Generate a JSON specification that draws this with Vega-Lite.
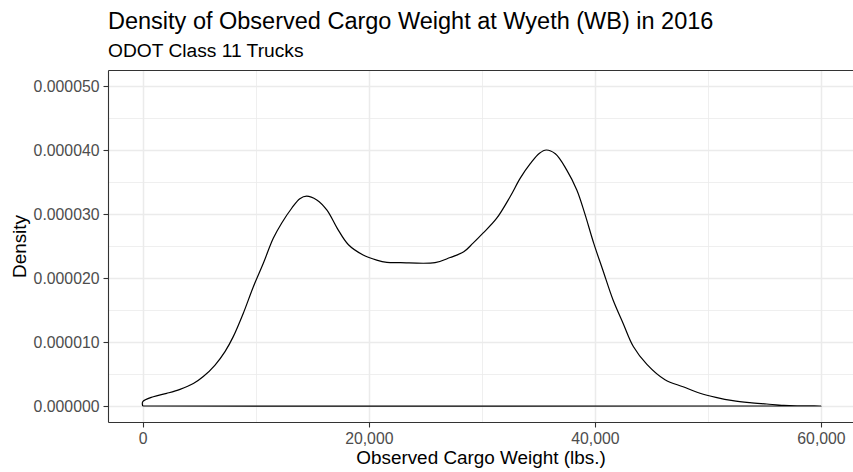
{
  "$schema": "https://vega.github.io/schema/vega-lite/v6.json",
  "width": 745,
  "height": 352,
  "autosize": "none",
  "padding": {"left": 108, "top": 70, "right": 0, "bottom": 50},
  "background": "white",
  "config": {
    "font": "Liberation Sans",
    "view": {"stroke": null},
    "axis": {
      "labelFont": "Liberation Sans",
      "titleFont": "Liberation Sans",
      "labelFontSize": 15.8,
      "labelColor": "#4D4D4D",
      "titleFontSize": 18.9,
      "titleFontWeight": "normal",
      "titleColor": "#000000",
      "tickColor": "#333333",
      "tickSize": 5,
      "tickWidth": 1.1,
      "domainColor": "#333333",
      "domainWidth": 1.1,
      "gridColor": "#EBEBEB"
    }
  },
  "title": {
    "text": "Density of Observed Cargo Weight at Wyeth (WB) in 2016",
    "subtitle": "ODOT Class 11 Trucks",
    "anchor": "start",
    "frame": "group",
    "font": "Liberation Sans",
    "fontSize": 23.5,
    "fontWeight": "normal",
    "color": "#000000",
    "subtitleFont": "Liberation Sans",
    "subtitleFontSize": 19.2,
    "subtitleColor": "#000000",
    "subtitlePadding": 8,
    "offset": 9
  },
  "data": {
    "values": [
      {"i": 0, "w": 0, "d": 0},
      {"i": 1, "w": 0, "d": 6.7e-7},
      {"i": 2, "w": 940, "d": 1.45e-6},
      {"i": 3, "w": 2120, "d": 1.98e-6},
      {"i": 4, "w": 3300, "d": 2.6e-6},
      {"i": 5, "w": 4480, "d": 3.5e-6},
      {"i": 6, "w": 5360, "d": 4.6e-6},
      {"i": 7, "w": 6400, "d": 6.4e-6},
      {"i": 8, "w": 7280, "d": 8.5e-6},
      {"i": 9, "w": 8000, "d": 1.08e-5},
      {"i": 10, "w": 8900, "d": 1.45e-5},
      {"i": 11, "w": 9780, "d": 1.86e-5},
      {"i": 12, "w": 10670, "d": 2.23e-5},
      {"i": 13, "w": 11550, "d": 2.62e-5},
      {"i": 14, "w": 12300, "d": 2.86e-5},
      {"i": 15, "w": 13180, "d": 3.09e-5},
      {"i": 16, "w": 13900, "d": 3.24e-5},
      {"i": 17, "w": 14500, "d": 3.28e-5},
      {"i": 18, "w": 15400, "d": 3.22e-5},
      {"i": 19, "w": 16300, "d": 3.06e-5},
      {"i": 20, "w": 17200, "d": 2.78e-5},
      {"i": 21, "w": 18200, "d": 2.52e-5},
      {"i": 22, "w": 19500, "d": 2.36e-5},
      {"i": 23, "w": 20700, "d": 2.28e-5},
      {"i": 24, "w": 21600, "d": 2.245e-5},
      {"i": 25, "w": 22800, "d": 2.24e-5},
      {"i": 26, "w": 25860, "d": 2.24e-5},
      {"i": 27, "w": 27200, "d": 2.32e-5},
      {"i": 28, "w": 28400, "d": 2.41e-5},
      {"i": 29, "w": 29200, "d": 2.54e-5},
      {"i": 30, "w": 30100, "d": 2.7e-5},
      {"i": 31, "w": 31300, "d": 2.93e-5},
      {"i": 32, "w": 32500, "d": 3.27e-5},
      {"i": 33, "w": 33400, "d": 3.56e-5},
      {"i": 34, "w": 34300, "d": 3.79e-5},
      {"i": 35, "w": 35100, "d": 3.95e-5},
      {"i": 36, "w": 35700, "d": 4.0e-5},
      {"i": 37, "w": 36500, "d": 3.94e-5},
      {"i": 38, "w": 37500, "d": 3.69e-5},
      {"i": 39, "w": 38400, "d": 3.375e-5},
      {"i": 40, "w": 39100, "d": 3.01e-5},
      {"i": 41, "w": 39900, "d": 2.54e-5},
      {"i": 42, "w": 40700, "d": 2.125e-5},
      {"i": 43, "w": 41600, "d": 1.66e-5},
      {"i": 44, "w": 42500, "d": 1.29e-5},
      {"i": 45, "w": 43400, "d": 9.3e-6},
      {"i": 46, "w": 44600, "d": 6.5e-6},
      {"i": 47, "w": 46200, "d": 4.1e-6},
      {"i": 48, "w": 47800, "d": 3.0e-6},
      {"i": 49, "w": 49300, "d": 2.0e-6},
      {"i": 50, "w": 50700, "d": 1.35e-6},
      {"i": 51, "w": 52200, "d": 8.3e-7},
      {"i": 52, "w": 53700, "d": 5.2e-7},
      {"i": 53, "w": 55200, "d": 3.1e-7},
      {"i": 54, "w": 56700, "d": 1.0e-7},
      {"i": 55, "w": 58000, "d": 3e-8},
      {"i": 56, "w": 60000, "d": 0},
      {"i": 57, "w": 0, "d": 0}
    ]
  },
  "layer": [
    {
      "mark": {"type": "line", "opacity": 0},
      "encoding": {
        "x": {
          "field": "w", "type": "quantitative",
          "scale": {"domain": [-3069, 62831], "nice": false, "zero": false},
          "axis": {"orient": "top", "values": [10000, 30000, 50000], "grid": true, "gridWidth": 0.8, "labels": false, "ticks": false, "domain": true, "title": null}
        },
        "y": {
          "field": "d", "type": "quantitative",
          "scale": {"domain": [-2.5e-6, 5.25e-5], "nice": false, "zero": false},
          "axis": {"orient": "left", "values": [5e-6, 1.5e-5, 2.5e-5, 3.5e-5, 4.5e-5], "grid": true, "gridWidth": 0.8, "labels": false, "ticks": false, "domain": false, "title": null}
        },
        "order": {"field": "i", "type": "quantitative"}
      }
    },
    {
      "mark": {"type": "line", "color": "#000000", "strokeWidth": 1.2, "interpolate": "catmull-rom"},
      "encoding": {
        "x": {
          "field": "w", "type": "quantitative",
          "scale": {"domain": [-3069, 62831], "nice": false, "zero": false},
          "axis": {"orient": "bottom", "values": [0, 20000, 40000, 60000], "format": ",d", "grid": true, "gridWidth": 1.5, "labelPadding": 4, "titlePadding": 3, "title": "Observed Cargo Weight (lbs.)"}
        },
        "y": {
          "field": "d", "type": "quantitative",
          "scale": {"domain": [-2.5e-6, 5.25e-5], "nice": false, "zero": false},
          "axis": {"orient": "left", "values": [0, 1e-5, 2e-5, 3e-5, 4e-5, 5e-5], "format": ".6f", "grid": true, "gridWidth": 1.5, "labelPadding": 4, "titlePadding": 4, "title": "Density"}
        },
        "order": {"field": "i", "type": "quantitative"}
      }
    }
  ],
  "resolve": {"axis": {"x": "independent", "y": "independent"}}
}
